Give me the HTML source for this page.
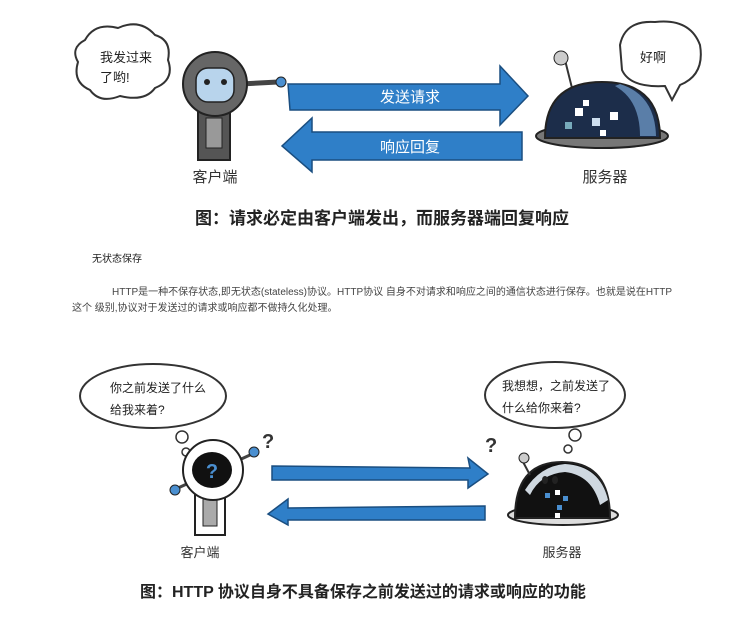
<!DOCTYPE html>
<html><head><meta charset="utf-8"><style>
body{margin:0;width:744px;height:619px;background:#fff;overflow:hidden;font-family:"Liberation Sans","Noto Sans CJK SC",sans-serif}
svg{position:absolute;left:0;top:0}
</style></head><body>
<svg width="744" height="619" viewBox="0 0 744 619" font-family="Liberation Sans, Noto Sans CJK SC, sans-serif">
<!-- TOP -->
<path d="M85 40 Q95 22 118 28 Q140 18 155 35 Q172 40 168 60 Q175 80 155 88 Q145 102 120 96 Q100 104 90 90 Q72 82 78 62 Q70 48 85 40Z" fill="#fff" stroke="#333" stroke-width="2"/>
<text x="100" y="62" font-size="13" fill="#222">我发过来</text>
<text x="100" y="82" font-size="13" fill="#222">了哟!</text>
<rect x="198" y="110" width="32" height="50" fill="#555" stroke="#222" stroke-width="2"/>
<rect x="206" y="118" width="16" height="30" fill="#999" stroke="#222"/>
<line x1="240" y1="84" x2="278" y2="82" stroke="#444" stroke-width="5"/>
<circle cx="281" cy="82" r="5" fill="#4a8fd0" stroke="#222"/>
<circle cx="215" cy="84" r="32" fill="#666" stroke="#222" stroke-width="2"/>
<rect x="196" y="68" width="38" height="34" rx="12" fill="#b8d4ec" stroke="#222" stroke-width="1.5"/>
<circle cx="207" cy="82" r="3" fill="#222"/><circle cx="224" cy="82" r="3" fill="#222"/>
<path d="M288 84 L500 84 L500 66 L528 96 L500 125 L500 110 L290 110Z" fill="#2f7fc8" stroke="#1a4e80" stroke-width="1.5"/>
<text x="410" y="102" font-size="15" fill="#fff" text-anchor="middle">发送请求</text>
<path d="M522 132 L312 132 L312 118 L282 146 L312 172 L312 160 L522 160Z" fill="#2f7fc8" stroke="#1a4e80" stroke-width="1.5"/>
<text x="410" y="152" font-size="15" fill="#fff" text-anchor="middle">响应回复</text>
<path d="M620 45 Q625 20 655 22 Q690 18 700 45 Q705 75 680 85 L672 100 L665 86 Q630 88 622 70Z" fill="#fff" stroke="#333" stroke-width="2"/>
<text x="640" y="62" font-size="13" fill="#222">好啊</text>
<line x1="565" y1="60" x2="572" y2="88" stroke="#333" stroke-width="2"/>
<circle cx="561" cy="58" r="7" fill="#ccc" stroke="#222"/>
<ellipse cx="602" cy="136" rx="66" ry="12" fill="#777" stroke="#222" stroke-width="2"/>
<path d="M545 138 Q545 82 602 82 Q660 82 660 138Z" fill="#1c2d4a" stroke="#222" stroke-width="2"/>
<path d="M620 84 Q655 95 656 136 L640 136 Q640 100 615 86Z" fill="#5a7ea8"/>
<rect x="575" y="108" width="8" height="8" fill="#fff"/><rect x="592" y="118" width="8" height="8" fill="#cde"/><rect x="610" y="112" width="8" height="8" fill="#fff"/><rect x="565" y="122" width="7" height="7" fill="#7ab"/><rect x="600" y="130" width="6" height="6" fill="#fff"/><rect x="583" y="100" width="6" height="6" fill="#fff"/>
<text x="215" y="182" font-size="15" fill="#333" text-anchor="middle">客户端</text>
<text x="605" y="182" font-size="15" fill="#333" text-anchor="middle">服务器</text>
<text x="195" y="224" font-size="17" font-weight="bold" fill="#222">图：请求必定由客户端发出，而服务器端回复响应</text>
<!-- middle text -->
<text x="92" y="262" font-size="10" fill="#222">无状态保存</text>
<text x="112" y="295" font-size="10" fill="#444">HTTP是一种不保存状态,即无状态(stateless)协议。HTTP协议 自身不对请求和响应之间的通信状态进行保存。也就是说在HTTP</text>
<text x="72" y="311" font-size="10" fill="#444">这个 级别,协议对于发送过的请求或响应都不做持久化处理。</text>
<!-- BOTTOM -->
<ellipse cx="153" cy="396" rx="73" ry="32" fill="#fff" stroke="#333" stroke-width="2"/>
<circle cx="182" cy="437" r="6" fill="#fff" stroke="#333" stroke-width="1.5"/>
<circle cx="186" cy="452" r="4" fill="#fff" stroke="#333" stroke-width="1.5"/>
<text x="110" y="392" font-size="12" fill="#222">你之前发送了什么</text>
<text x="110" y="414" font-size="12" fill="#222">给我来着?</text>
<text x="262" y="448" font-size="20" font-weight="bold" fill="#333">?</text>
<rect x="195" y="490" width="30" height="45" fill="#fff" stroke="#222" stroke-width="2"/>
<rect x="203" y="498" width="14" height="28" fill="#aaa" stroke="#222"/>
<line x1="178" y1="488" x2="250" y2="455" stroke="#444" stroke-width="3"/>
<circle cx="175" cy="490" r="5" fill="#4a8fd0" stroke="#222"/><circle cx="254" cy="452" r="5" fill="#4a8fd0" stroke="#222"/>
<circle cx="213" cy="470" r="30" fill="#fff" stroke="#222" stroke-width="2"/>
<ellipse cx="212" cy="470" rx="20" ry="18" fill="#111"/>
<text x="212" y="478" font-size="20" font-weight="bold" fill="#4a8fd0" text-anchor="middle">?</text>
<path d="M272 466 L470 468 L468 458 L488 474 L468 488 L468 480 L272 480Z" fill="#2f7fc8" stroke="#1a4e80" stroke-width="1.5"/>
<path d="M485 506 L288 508 L288 499 L268 514 L288 525 L288 520 L485 520Z" fill="#2f7fc8" stroke="#1a4e80" stroke-width="1.5"/>
<ellipse cx="555" cy="395" rx="70" ry="33" fill="#fff" stroke="#333" stroke-width="2"/>
<circle cx="575" cy="435" r="6" fill="#fff" stroke="#333" stroke-width="1.5"/>
<circle cx="568" cy="449" r="4" fill="#fff" stroke="#333" stroke-width="1.5"/>
<text x="502" y="390" font-size="12" fill="#222">我想想，之前发送了</text>
<text x="502" y="412" font-size="12" fill="#222">什么给你来着?</text>
<text x="485" y="452" font-size="20" font-weight="bold" fill="#333">?</text>
<ellipse cx="563" cy="515" rx="55" ry="10" fill="#ddd" stroke="#222" stroke-width="2"/>
<path d="M515 518 Q515 462 562 462 Q610 462 610 518Z" fill="#111" stroke="#222" stroke-width="2"/>
<path d="M525 490 Q540 466 565 464 Q600 466 608 500 L600 505 Q592 475 565 472 Q540 474 530 495Z" fill="#cfd8e0"/>
<ellipse cx="545" cy="480" rx="3" ry="4" fill="#222"/><ellipse cx="555" cy="480" rx="3" ry="4" fill="#222"/>
<rect x="545" y="493" width="5" height="5" fill="#4a8fd0"/><rect x="555" y="490" width="5" height="5" fill="#fff"/><rect x="563" y="496" width="5" height="5" fill="#4a8fd0"/><rect x="557" y="505" width="5" height="5" fill="#4a8fd0"/><rect x="555" y="513" width="5" height="5" fill="#fff"/>
<line x1="530" y1="475" x2="522" y2="460" stroke="#333" stroke-width="2"/><circle cx="524" cy="458" r="5" fill="#ccc" stroke="#222"/>
<text x="200" y="557" font-size="13" fill="#333" text-anchor="middle">客户端</text>
<text x="562" y="557" font-size="13" fill="#333" text-anchor="middle">服务器</text>
<text x="140" y="597" font-size="16" font-weight="bold" fill="#222">图：HTTP 协议自身不具备保存之前发送过的请求或响应的功能</text>
</svg>
</body></html>
